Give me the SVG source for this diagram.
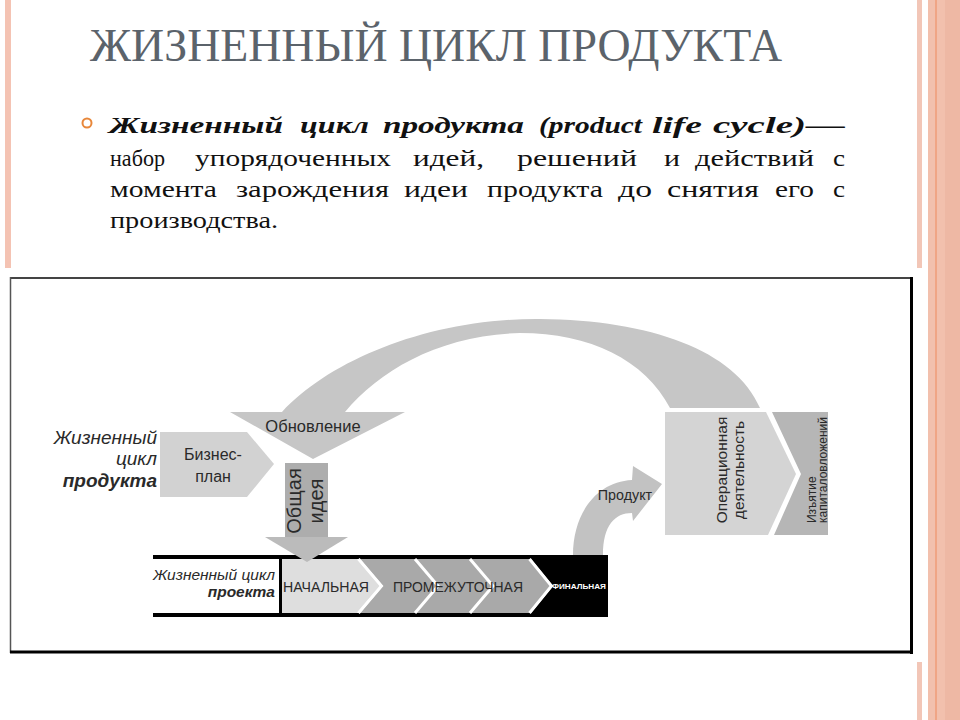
<svg xmlns="http://www.w3.org/2000/svg" width="960" height="720" viewBox="0 0 960 720">
<style>
.sans{font-family:"Liberation Sans",Arial,sans-serif}
.body{font-family:"Liberation Serif","Times New Roman",serif;font-size:24px;fill:#111}
.lbl{font-family:"Liberation Sans",Arial,sans-serif;fill:#2a2a2a}
.it{font-style:italic}
.b{font-weight:bold}
.sep{fill:none;stroke:#fff;stroke-width:3}
</style>
<rect width="960" height="720" fill="#fff"/>
<g id="frame">
<rect x="5" y="0" width="6" height="268" fill="#f4c3b3"/>
<rect x="917" y="0" width="5" height="268" fill="#f2c6b7"/>
<rect x="917" y="662" width="5" height="58" fill="#f2c6b7"/>
<rect x="928" y="0" width="32" height="720" fill="#f2c0ad"/>
<rect x="935" y="0" width="2" height="720" fill="#f0a585"/>
<rect x="945" y="0" width="15" height="720" fill="#eeb8a4"/>
</g>
<g id="title">
<text x="90" y="61" font-family="'Liberation Serif','Times New Roman',serif" font-size="47" fill="#5b636b" textLength="692" lengthAdjust="spacingAndGlyphs">ЖИЗНЕННЫЙ ЦИКЛ ПРОДУКТА</text>
</g>
<g id="definition">
<circle cx="87" cy="123" r="4.5" fill="none" stroke="#e8873a" stroke-width="2"/>
<text class="body it b" y="133"><tspan x="109" textLength="174" lengthAdjust="spacingAndGlyphs">Жизненный</tspan> <tspan x="300" textLength="69" lengthAdjust="spacingAndGlyphs">цикл</tspan> <tspan x="383" textLength="141" lengthAdjust="spacingAndGlyphs">продукта</tspan> <tspan x="539" textLength="103" lengthAdjust="spacingAndGlyphs">(product</tspan> <tspan x="652" textLength="50" lengthAdjust="spacingAndGlyphs">life</tspan> <tspan x="713" textLength="132" lengthAdjust="spacingAndGlyphs">cycle)—</tspan></text>
<text class="body" y="166"><tspan x="110" textLength="55" lengthAdjust="spacingAndGlyphs">набор</tspan> <tspan x="195" textLength="196" lengthAdjust="spacingAndGlyphs">упорядоченных</tspan> <tspan x="413" textLength="71" lengthAdjust="spacingAndGlyphs">идей,</tspan> <tspan x="517" textLength="120" lengthAdjust="spacingAndGlyphs">решений</tspan> <tspan x="664" textLength="16" lengthAdjust="spacingAndGlyphs">и</tspan> <tspan x="695" textLength="119" lengthAdjust="spacingAndGlyphs">действий</tspan> <tspan x="833" textLength="12" lengthAdjust="spacingAndGlyphs">с</tspan></text>
<text class="body" y="197"><tspan x="110" textLength="107" lengthAdjust="spacingAndGlyphs">момента</tspan> <tspan x="236" textLength="153" lengthAdjust="spacingAndGlyphs">зарождения</tspan> <tspan x="404" textLength="64" lengthAdjust="spacingAndGlyphs">идеи</tspan> <tspan x="487" textLength="116" lengthAdjust="spacingAndGlyphs">продукта</tspan> <tspan x="618" textLength="34" lengthAdjust="spacingAndGlyphs">до</tspan> <tspan x="667" textLength="92" lengthAdjust="spacingAndGlyphs">снятия</tspan> <tspan x="775" textLength="39" lengthAdjust="spacingAndGlyphs">его</tspan> <tspan x="833" textLength="12" lengthAdjust="spacingAndGlyphs">с</tspan></text>
<text class="body" y="228"><tspan x="110" textLength="168" lengthAdjust="spacingAndGlyphs">производства.</tspan></text>
</g>
<g id="diagram-box">
<rect x="10" y="277" width="903" height="376" fill="#fff"/>
<line x1="10" y1="278" x2="913" y2="278" stroke="#444" stroke-width="2"/>
<line x1="10.5" y1="277" x2="10.5" y2="653" stroke="#555" stroke-width="1.5"/>
<line x1="911.5" y1="277" x2="911.5" y2="654" stroke="#000" stroke-width="3"/>
<line x1="10" y1="652" x2="913" y2="652" stroke="#000" stroke-width="3"/>
</g>
<g id="product-life-cycle-label" class="lbl">
<text x="157" y="444" class="it" font-size="19" text-anchor="end">Жизненный</text>
<text x="157" y="465" class="it" font-size="19" text-anchor="end">цикл</text>
<text x="157" y="487" class="it b" font-size="19" text-anchor="end">продукта</text>
</g>
<g id="business-plan">
<polygon points="160,432 247,432 274,464 247,497 160,497" fill="#d2d2d2"/>
<text class="lbl" x="213" y="460" font-size="16" text-anchor="middle">Бизнес-</text>
<text class="lbl" x="213" y="482" font-size="16" text-anchor="middle">план</text>
</g>
<g id="project-life-cycle">
<rect x="153" y="555" width="455" height="4" fill="#000"/>
<rect x="153" y="613" width="455" height="4" fill="#000"/>
<rect x="279" y="559" width="3" height="54" fill="#000"/>
<polygon points="282,559 357,559 380,586 357,613 282,613" fill="#dedede"/>
<polygon points="360,559 530,559 552,586 530,613 360,613 383,586" fill="#a9a9a9"/>
<polygon points="531,559 608,559 608,613 531,613 553,586" fill="#000"/>
<polyline class="sep" points="358.5,559 381.5,586 358.5,613"/>
<polyline class="sep" points="415,559 438,586 415,613"/>
<polyline class="sep" points="470,559 493,586 470,613"/>
<polyline class="sep" points="529.5,559 551.5,586 529.5,613"/>
<text class="lbl it" x="275" y="580" font-size="15.5" text-anchor="end">Жизненный цикл</text>
<text class="lbl it b" x="275" y="597" font-size="15.5" text-anchor="end">проекта</text>
<text class="lbl" x="283" y="592" font-size="14" textLength="86" lengthAdjust="spacingAndGlyphs">НАЧАЛЬНАЯ</text>
<text class="lbl" x="393" y="592" font-size="14" textLength="130" lengthAdjust="spacingAndGlyphs">ПРОМЕЖУТОЧНАЯ</text>
<text class="sans b" x="552" y="589" font-size="8" fill="#fff" textLength="54" lengthAdjust="spacingAndGlyphs">ФИНАЛЬНАЯ</text>
</g>
<g id="operations">
<polygon points="665,412 766,412 796,474 768,535 665,535" fill="#d4d4d4"/>
<text class="lbl" transform="translate(727,470) rotate(-90)" font-size="15.5" text-anchor="middle">Операционная</text>
<text class="lbl" transform="translate(744,470) rotate(-90)" font-size="15.5" text-anchor="middle">деятельность</text>
</g>
<g id="divestment">
<polygon points="772,412 828,412 828,535 774,535 801,474" fill="#b6b6b6"/>
<text class="lbl" transform="translate(816,523) rotate(-90)" font-size="12">Изъятие</text>
<text class="lbl" transform="translate(827,523) rotate(-90)" font-size="12" textLength="106" lengthAdjust="spacingAndGlyphs">капиталовложений</text>
</g>
<g id="connectors">
<g id="renewal-arrow">
<path d="M760,408 C735,350 650,320 540,319 C430,318 330,360 282,412 L230,412 L313,459 L405,412 L345,412 C380,370 440,335 520,333 C590,333 645,360 670,408 Z" fill="#c6c6c6"/>
<text class="lbl" x="313" y="432" font-size="16.5" text-anchor="middle">Обновление</text>
</g>
<g id="general-idea-arrow">
<rect x="285" y="463" width="43" height="75" fill="#adadad"/>
<polygon points="265,537 348,537 307,562" fill="#bbbbbb"/>
<text class="lbl" transform="translate(301,501) rotate(-90)" font-size="20" text-anchor="middle">Общая</text>
<text class="lbl" transform="translate(323,501) rotate(-90)" font-size="20" text-anchor="middle">идея</text>
</g>
<g id="product-arrow">
<path d="M573,555 C573,515 595,482 632,480 L633,466 L662,484 L633,521 L632,513 C615,513 603,525 603,555 Z" fill="#c2c2c2"/>
<text class="lbl" x="625" y="500" font-size="14.3" text-anchor="middle">Продукт</text>
</g>
</g>
</svg>
